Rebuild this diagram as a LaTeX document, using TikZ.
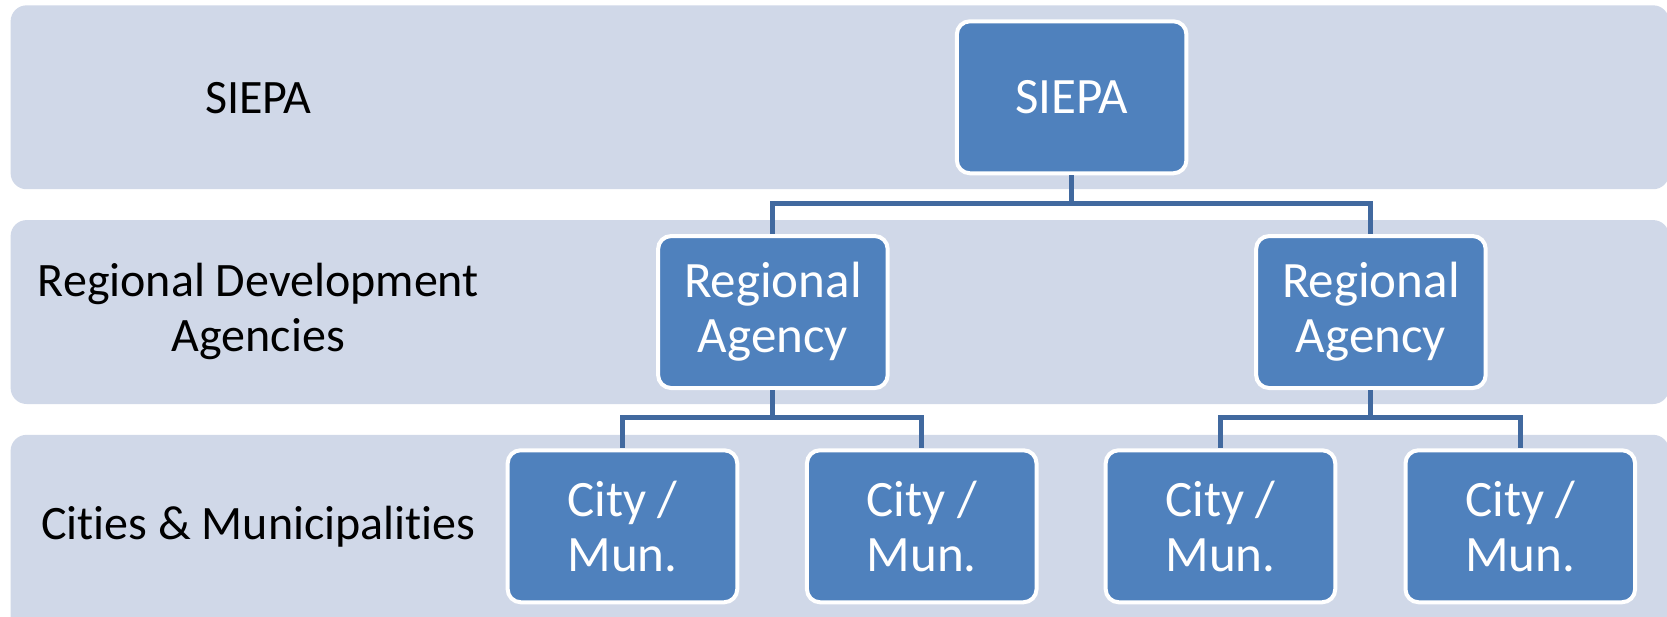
\documentclass[tikz,border=0pt]{standalone}
\usepackage{fontspec}
\setmainfont{Carlito}[Ligatures={NoCommon}]
\definecolor{band}{HTML}{D0D8E8}
\definecolor{boxfill}{HTML}{4F81BD}
\definecolor{conn}{HTML}{41699F}
\begin{document}
\begin{tikzpicture}[x=0.5316pt,y=-0.5316pt,
  bandbox/.style={fill=band, draw=none, rounded corners=8pt},
  orgbox/.style={fill=boxfill, draw=white, line width=2pt, rounded corners=6.5pt,
    minimum width=114.8pt, minimum height=76pt, inner sep=0pt,
    text=white, align=center, font=\fontsize{25.5}{27.6}\selectfont},
  lbl/.style={align=center, text=black, font=\fontsize{24}{27.6}\selectfont},
  link/.style={draw=conn, line width=2.5pt}]
\useasboundingbox (0,0) rectangle (1568,580);
\clip (0,0) rectangle (1568,580);
\fill[white] (0,0) rectangle (1568,580);
% bands
\path[bandbox] (10,5) rectangle (1570,178);
\path[bandbox] (10,207) rectangle (1570,380);
\path[bandbox] (10,409) rectangle (1570,600);
% left labels
\node[lbl] (l1) at (243,92) {SIEPA};
\node[lbl] (l2) at (243,293) {Regional Development\\Agencies};
\node[lbl] (l3) at (243,495) {Cities \& Municipalities};
% boxes
\node[orgbox] (s) at (1008,91.5) {SIEPA};
\node[orgbox] (r1) at (727,293.5) {Regional\\Agency};
\node[orgbox] (r2) at (1289.5,293.5) {Regional\\Agency};
\node[orgbox] (c1) at (585.5,495) {City /\\Mun.};
\node[orgbox] (c2) at (867,495) {City /\\Mun.};
\node[orgbox] (c3) at (1148,495) {City /\\Mun.};
\node[orgbox] (c4) at (1430,495) {City /\\Mun.};
% connectors
\coordinate (j0) at (1008,191);
\coordinate (j1) at (727,393);
\coordinate (j2) at (1289.5,393);
\draw[link] (s.south) -- (j0);
\draw[link] (j0) -| (r1.north);
\draw[link] (j0) -| (r2.north);
\draw[link] (r1.south) -- (j1);
\draw[link] (j1) -| (c1.north);
\draw[link] (j1) -| (c2.north);
\draw[link] (r2.south) -- (j2);
\draw[link] (j2) -| (c3.north);
\draw[link] (j2) -| (c4.north);
\end{tikzpicture}
\end{document}
